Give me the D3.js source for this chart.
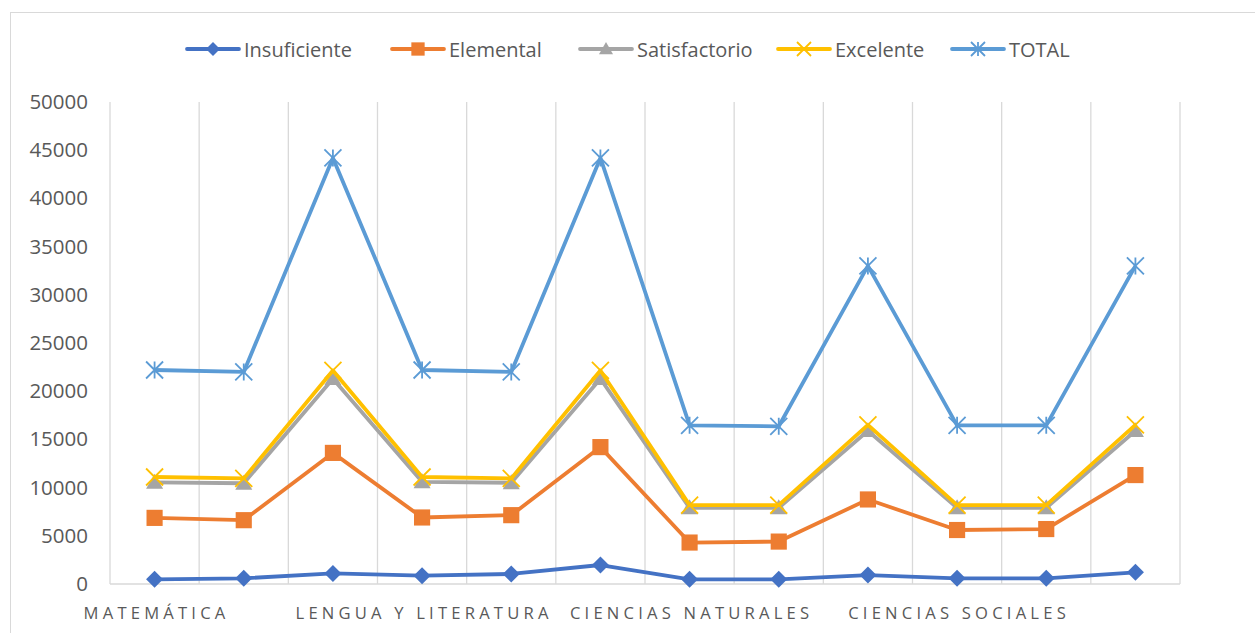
<!DOCTYPE html>
<html>
<head>
<meta charset="utf-8">
<script src="https://cdn.jsdelivr.net/npm/d3@7"></script>
<style>
  body { margin: 0; background: #fff; }
  text { font-family: "Open Sans", sans-serif; }
</style>
</head>
<body>
<div id="chart"></div>
<script>
// Data
const categories = d3.range(12);
const tickLabels = [
    { i: 0, label: "MATEMÁTICA" },
    { i: 3, label: "LENGUA Y LITERATURA" },
    { i: 6, label: "CIENCIAS NATURALES" },
    { i: 9, label: "CIENCIAS SOCIALES" }
];
const seriesNames = ["Insuficiente", "Elemental", "Satisfactorio", "Excelente", "TOTAL"];
const insuficiente = [490, 590, 1100, 860, 1040, 1970, 490, 490, 930, 590, 590, 1210];
const elemental = [6860, 6620, 13600, 6900, 7140, 14200, 4300, 4400, 8770, 5600, 5700, 11300];
const satisfactorio = [10550, 10450, 21300, 10600, 10500, 21300, 7900, 7900, 15900, 7900, 7900, 15900];
const excelente = [11100, 10950, 22150, 11100, 10950, 22150, 8180, 8180, 16500, 8180, 8180, 16500];
const total = [22200, 22000, 44200, 22200, 22000, 44200, 16460, 16360, 33000, 16460, 16460, 33000];
const yTicks = [0, 5000, 10000, 15000, 20000, 25000, 30000, 35000, 40000, 45000, 50000];

const seriesValues = [insuficiente, elemental, satisfactorio, excelente, total];
const colors = ["#4472C4", "#ED7D31", "#A5A5A5", "#FFC000", "#5B9BD5"];
const markers = ["diamond", "square", "triangle", "x", "star"];

const W = 1255, H = 633;
const plot = { left: 110, right: 1180, top: 102, bottom: 584 };

const svg = d3.select("#chart").append("svg")
    .attr("width", W)
    .attr("height", H);

// chart area border
svg.append("rect")
    .attr("x", 10.5).attr("y", 12.5)
    .attr("width", W + 20).attr("height", H + 20)
    .attr("fill", "none")
    .attr("stroke", "#d9d9d9")
    .attr("stroke-width", 1);

// Scales
const x = d3.scaleBand()
    .domain(categories)
    .range([plot.left, plot.right])
    .padding(0);

const y = d3.scaleLinear()
    .domain([0, 50000])
    .range([plot.bottom, plot.top]);

// Vertical gridlines at band boundaries
const bounds = categories.map(c => x(c)).concat([plot.right]);
svg.append("g").selectAll("line")
    .data(bounds)
    .enter().append("line")
    .attr("x1", d => d).attr("x2", d => d)
    .attr("y1", plot.top).attr("y2", plot.bottom)
    .attr("stroke", "#d9d9d9")
    .attr("stroke-width", 1.3);

// bottom axis line
svg.append("line")
    .attr("x1", plot.left).attr("x2", plot.right)
    .attr("y1", plot.bottom).attr("y2", plot.bottom)
    .attr("stroke", "#d9d9d9")
    .attr("stroke-width", 1.3);

// Y axis labels
const yAxis = svg.append("g")
    .attr("transform", "translate(" + (plot.left - 22) + ",0)")
    .call(d3.axisLeft(y).tickValues(yTicks).tickSize(0).tickPadding(0).tickFormat(d3.format("d")));
yAxis.select(".domain").remove();
yAxis.selectAll("text")
    .attr("fill", "#595959")
    .style("font-family", "'Open Sans', sans-serif")
    .style("font-size", "20.5px");

// X axis labels
svg.append("g").selectAll("text")
    .data(tickLabels)
    .enter().append("text")
    .attr("x", d => x(d.i) + x.bandwidth() / 2 + 2)
    .attr("y", 619)
    .attr("text-anchor", "middle")
    .attr("fill", "#595959")
    .style("font-size", "16.6px")
    .style("letter-spacing", "4.2px")
    .text(d => d.label);

// marker drawing
function drawMarker(g, type, color, size) {
    const s = size / 2;
    if (type === "diamond") {
        g.append("path")
            .attr("d", `M0,${-s}L${s},0L0,${s}L${-s},0Z`)
            .attr("fill", color);
    } else if (type === "square") {
        g.append("rect")
            .attr("x", -s * 0.95).attr("y", -s * 0.95)
            .attr("width", s * 1.9).attr("height", s * 1.9)
            .attr("fill", color);
    } else if (type === "triangle") {
        g.append("path")
            .attr("d", `M0,${-s}L${s},${s * 0.75}L${-s},${s * 0.75}Z`)
            .attr("fill", color);
    } else if (type === "x") {
        g.append("path")
            .attr("d", `M${-s},${-s}L${s},${s}M${-s},${s}L${s},${-s}`)
            .attr("stroke", color).attr("stroke-width", 1.8);
    } else if (type === "star") {
        g.append("path")
            .attr("d", `M${-s},${-s}L${s},${s}M${-s},${s}L${s},${-s}M0,${-s}L0,${s}`)
            .attr("stroke", color).attr("stroke-width", 1.8);
    }
}

// Lines
const line = d3.line()
    .x((d, i) => x(categories[i]) + x.bandwidth() / 2)
    .y(d => y(d));

seriesValues.forEach((vals, si) => {
    const g = svg.append("g").attr("class", "series");
    g.append("path")
        .datum(vals)
        .attr("d", line)
        .attr("fill", "none")
        .attr("stroke", colors[si])
        .attr("stroke-width", 3.8)
        .attr("stroke-linejoin", "round");
    vals.forEach((v, i) => {
        const m = g.append("g")
            .attr("transform", `translate(${x(categories[i]) + x.bandwidth() / 2},${y(v)})`);
        drawMarker(m, markers[si], colors[si], 17);
    });
});

// Legend
const legendX = [187, 392, 580, 778, 952];
const legend = svg.append("g").attr("class", "legend");
seriesNames.forEach((name, si) => {
    const lg = legend.append("g").attr("transform", `translate(${legendX[si]},49)`);
    lg.append("line")
        .attr("x1", 0).attr("x2", 52)
        .attr("stroke", colors[si])
        .attr("stroke-width", 3.8)
        .attr("stroke-linecap", "round");
    const m = lg.append("g").attr("transform", "translate(26,0)");
    drawMarker(m, markers[si], colors[si], 14);
    lg.append("text")
        .attr("x", 57)
        .attr("y", 7.5)
        .attr("fill", "#595959")
        .style("font-size", "20px")
        .text(name);
});
</script>
</body>
</html>
